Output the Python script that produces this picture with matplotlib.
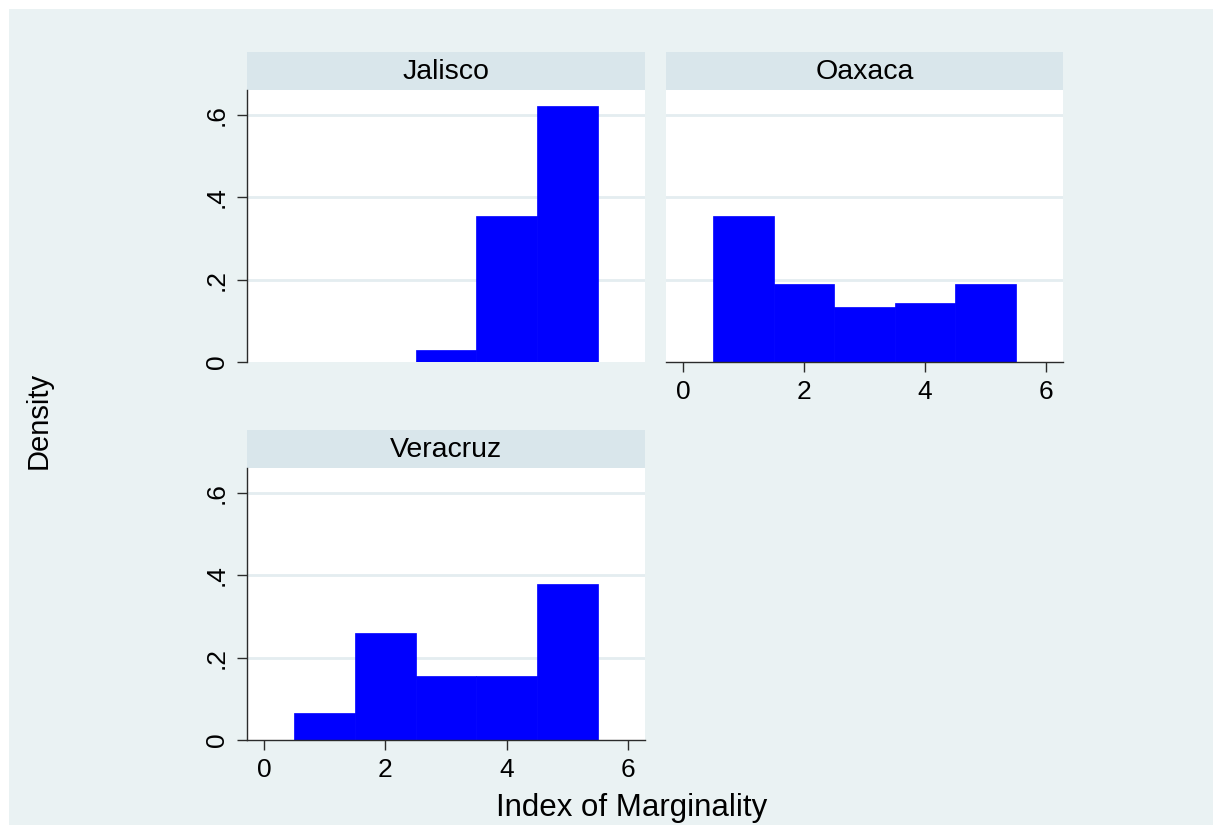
import matplotlib
matplotlib.use("Agg")
import matplotlib.pyplot as plt
from matplotlib.patches import Rectangle

plt.rcParams["font.family"] = ["Liberation Sans", "DejaVu Sans"]

# Histogram data (density, bins of width 1 centred on 1..5)
bin_centers = [1, 2, 3, 4, 5]
jalisco = [0.0, 0.0, 0.03, 0.355, 0.62]
oaxaca = [0.355, 0.19, 0.134, 0.143, 0.19]
veracruz = [0.065, 0.26, 0.155, 0.155, 0.378]
panel_names = ["Jalisco", "Oaxaca", "Veracruz"]
x_ticks = [0, 2, 4, 6]
y_ticks = [0, 0.2, 0.4, 0.6]
y_tick_labels = ["0", ".2", ".4", ".6"]

W, H = 1213, 825
BG = "#eaf2f3"
STRIP = "#d9e6eb"
GRID = "#e4edf0"
BAR = "#0000ff"
AXIS = "#2b2b2b"

fig = plt.figure(figsize=(W / 100, H / 100), dpi=100)
fig.patch.set_facecolor("white")
# light background panel (the image is cropped on top and left)
fig.patches.append(Rectangle((9 / W, -0.1), 1.2, 1.1 - 9 / H, transform=fig.transFigure,
                             facecolor=BG, edgecolor="none", zorder=-10))


def px_axes(left, top, right, bottom):
    return fig.add_axes([left / W, 1 - bottom / H, (right - left) / W, (bottom - top) / H])


def strip(left, top, right, bottom, label):
    sax = px_axes(left, top, right, bottom)
    sax.set_facecolor(STRIP)
    sax.set_xticks([])
    sax.set_yticks([])
    for s in sax.spines.values():
        s.set_visible(False)
    sax.text(0.5, 0.48, label, ha="center", va="center", fontsize=20.5, transform=sax.transAxes)


def panel(left, top, right, bottom, values, label, show_x, show_y):
    strip(left, top - 38, right, top, label)
    ax = px_axes(left, top, right, bottom)
    ax.set_facecolor("white")
    for y in y_ticks[1:]:
        ax.axhline(y, color=GRID, linewidth=2, zorder=0)
    ax.bar(bin_centers, values, width=1.0, color=BAR, edgecolor=BAR, linewidth=0.5, zorder=2)
    ax.set_xlim(-0.28, 6.28)
    ax.set_ylim(0, 0.66)
    for s in ax.spines.values():
        s.set_visible(False)
        s.set_color(AXIS)
        s.set_linewidth(1.0)
        s.set_zorder(3)
    if show_y:
        ax.spines["left"].set_visible(True)
        ax.set_yticks(y_ticks)
        ax.set_yticklabels(y_tick_labels, rotation=90, va="center")
        ax.tick_params(axis="y", length=7, width=1.0, color=AXIS, pad=6, labelsize=19)
    else:
        ax.set_yticks([])
    if show_x:
        ax.spines["bottom"].set_visible(True)
        ax.set_xticks(x_ticks)
        ax.tick_params(axis="x", length=7, width=1.0, color=AXIS, pad=6, labelsize=19)
    else:
        ax.set_xticks([])
    return ax


panel(247, 90, 645, 362, jalisco, panel_names[0], show_x=False, show_y=True)
panel(666, 90, 1063, 362, oaxaca, panel_names[1], show_x=True, show_y=False)
panel(247, 468, 645, 740, veracruz, panel_names[2], show_x=True, show_y=True)

fig.text(632 / W, 1 - 808 / H, "Index of Marginality", ha="center", va="center", fontsize=22.5)
fig.text(39 / W, 1 - 420 / H, "Density", ha="center", va="center", rotation=90, fontsize=21)

fig.savefig("out.png", dpi=100, facecolor=fig.get_facecolor())
